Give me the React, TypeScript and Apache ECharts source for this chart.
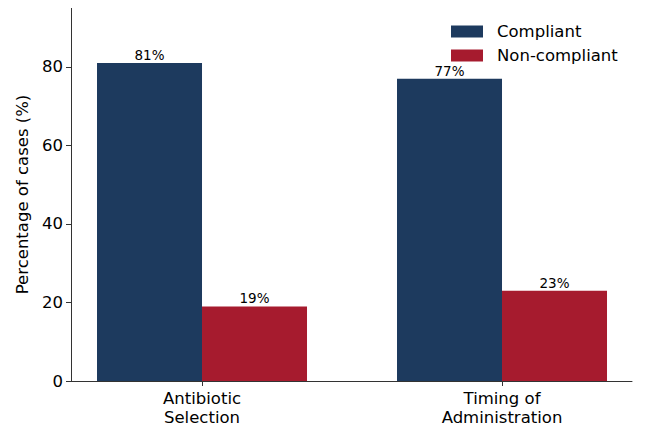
import React, { useEffect, useRef } from "react";
import * as echarts from "echarts";

const categories = ["Antibiotic\nSelection", "Timing of\nAdministration"];
const compliant = [81, 77];
const nonCompliant = [19, 23];
const yTicks = [0, 20, 40, 60, 80];
const seriesNames = ["Compliant", "Non-compliant"];
const colors = ["#1d3a5e", "#a61b2e"];

const BAR_W = 0.35;
const FONT = "DejaVu Sans, sans-serif";
const FS = 16.5;

function makeSeries(name: string, values: number[], offset: number, color: string) {
  return {
    type: "custom",
    name,
    itemStyle: { color },
    data: values.map((v, i) => [i, v]),
    encode: { x: 0, y: 1 },
    renderItem: (params: any, api: any) => {
      const x = api.value(0) as number;
      const y = api.value(1) as number;
      const p0 = api.coord([x + offset - BAR_W / 2, y]);
      const p1 = api.coord([x + offset + BAR_W / 2, 0]);
      return {
        type: "group",
        children: [
          {
            type: "rect",
            shape: { x: p0[0], y: p0[1], width: p1[0] - p0[0], height: p1[1] - p0[1] },
            style: { fill: color },
          },
          {
            type: "text",
            style: {
              text: `${y}%`,
              x: (p0[0] + p1[0]) / 2,
              y: p0[1] - 1,
              textAlign: "center",
              textVerticalAlign: "bottom",
              fill: "#000",
              font: `13.5px ${FONT}`,
            },
          },
        ],
      };
    },
  };
}

export default function App() {
  const ref = useRef<HTMLDivElement>(null);
  useEffect(() => {
    if (!ref.current) return;
    const chart = echarts.init(ref.current, null, { renderer: "svg" });
    chart.setOption({
      animation: false,
      textStyle: { fontFamily: FONT },
      grid: { left: 71, right: 18, top: 8, bottom: 64, containLabel: false },
      legend: {
        orient: "vertical",
        left: 451,
        top: 23,
        padding: 0,
        data: seriesNames,
        icon: "rect",
        itemWidth: 32,
        itemHeight: 12,
        itemGap: 7,
        textStyle: { fontSize: FS, color: "#000", fontFamily: FONT, padding: [0, 0, 0, 9] },
      },
      xAxis: {
        type: "value",
        min: -0.4367,
        max: 1.4333,
        splitLine: { show: false },
        axisLine: { show: true, onZero: false, lineStyle: { color: "#333", width: 1 } },
        axisTick: { show: true, customValues: [0, 1], length: 5, lineStyle: { color: "#333" } },
        axisLabel: {
          customValues: [0, 1],
          formatter: (v: number) => categories[Math.round(v)] ?? "",
          fontSize: FS,
          lineHeight: 19,
          color: "#000",
          margin: 8,
          fontFamily: FONT,
        },
      },
      yAxis: {
        type: "value",
        min: 0,
        max: 95,
        name: "Percentage of cases (%)",
        nameLocation: "middle",
        nameGap: 30,
        nameTextStyle: { fontSize: FS, color: "#000", fontFamily: FONT },
        splitLine: { show: false },
        axisLine: { show: true, onZero: false, lineStyle: { color: "#333", width: 1 } },
        axisTick: { show: true, customValues: yTicks, length: 5, lineStyle: { color: "#333" } },
        axisLabel: {
          customValues: yTicks,
          fontSize: FS,
          color: "#000",
          margin: 8,
          fontFamily: FONT,
        },
      },
      series: [
        makeSeries(seriesNames[0], compliant, -BAR_W / 2, colors[0]),
        makeSeries(seriesNames[1], nonCompliant, BAR_W / 2, colors[1]),
      ],
    });
    return () => chart.dispose();
  }, []);
  return <div ref={ref} style={{ width: 650, height: 445, margin: -8 }} />;
}
